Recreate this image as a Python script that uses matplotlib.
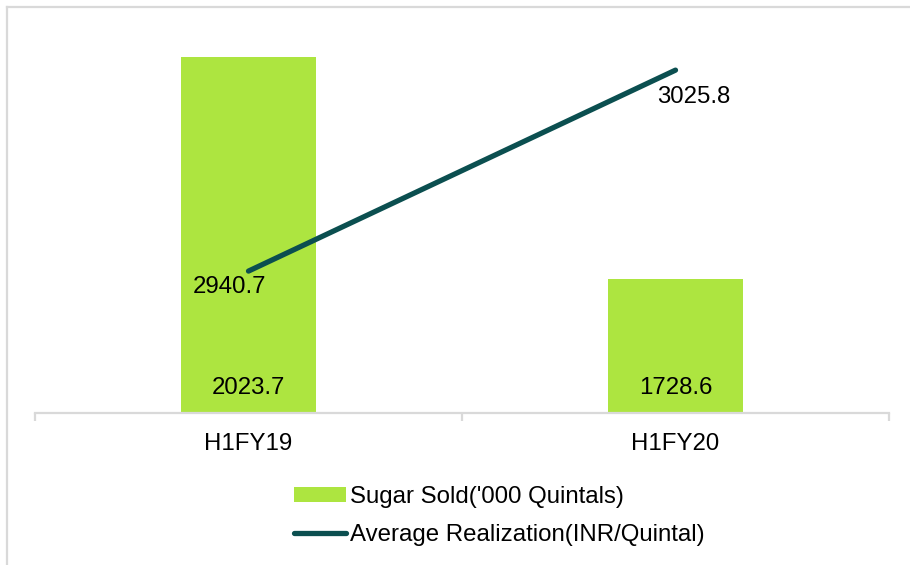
import matplotlib
matplotlib.use("Agg")
import matplotlib.pyplot as plt
from matplotlib.lines import Line2D
from matplotlib.patches import Patch

plt.rcParams['font.family'] = ['Liberation Sans', 'DejaVu Sans']

categories = ["H1FY19", "H1FY20"]
sugar_sold = [2023.7, 1728.6]
avg_realization = [2940.7, 3025.8]
bar_labels = ["2023.7", "1728.6"]
line_labels = ["2940.7", "3025.8"]

BAR_COLOR = "#ADE540"
LINE_COLOR = "#0B4F50"
GRID_GRAY = "#D9D9D9"
FS = 17.3

W, H = 910, 565
fig = plt.figure(figsize=(W / 100, H / 100), dpi=100)

left, right, bottom, top = 35 / W, 889 / W, 1 - 413 / H, 1.0
ax = fig.add_axes([left, bottom, right - left, top - bottom])
x = list(range(len(categories)))

ax.bar(x, sugar_sold, width=0.314, color=BAR_COLOR, zorder=2)
ax.set_xlim(-0.5, 1.5)
ax.set_ylim(1550, 2100)
ax.set_yticks([])
for s in ["top", "right", "left"]:
    ax.spines[s].set_visible(False)
ax.spines["bottom"].set_color(GRID_GRAY)
ax.spines["bottom"].set_linewidth(1.6)
ax.set_xticks([-0.5, 0.5, 1.5])
ax.set_xticklabels([])
ax.tick_params(axis="x", which="major", direction="out", length=6, width=1.6, color=GRID_GRAY)
ax.set_xticks(x, minor=True)
ax.set_xticklabels(categories, minor=True, fontsize=FS)
ax.tick_params(axis="x", which="minor", length=0, pad=14.5)

for xi, lab in zip(x, bar_labels):
    ax.annotate(lab, xy=(xi, 1550), xytext=(0, 25), textcoords="offset pixels",
                ha="center", va="center", fontsize=FS, zorder=5)

ax2 = ax.twinx()
ax2.set_ylim(2880.6, 3055.5)
ax2.axis("off")
ax2.plot(x, avg_realization, color=LINE_COLOR, lw=3.8, solid_capstyle="round", zorder=3)
offsets = [(-19, -16), (18, -27)]
for xi, v, lab, off in zip(x, avg_realization, line_labels, offsets):
    ax2.annotate(lab, xy=(xi, v), xytext=off, textcoords="offset pixels",
                 ha="center", va="center", fontsize=FS)

handles = [Patch(facecolor=BAR_COLOR, edgecolor="none"),
           Line2D([0], [0], color=LINE_COLOR, lw=3.8, solid_capstyle="round")]
fig.legend(handles, ["Sugar Sold('000 Quintals)", "Average Realization(INR/Quintal)"],
           loc="upper left", bbox_to_anchor=(294 / W, 1 - 486 / H),
           frameon=False, fontsize=FS, handlelength=2.15, handleheight=0.6,
           handletextpad=0.17, labelspacing=0.68, borderpad=0, borderaxespad=0)

# outer frame (left and top edges)
fig.add_artist(Line2D([7 / W, 7 / W], [0, 1 - 7 / H], color=GRID_GRAY, lw=1.6, transform=fig.transFigure))
fig.add_artist(Line2D([7 / W, 1], [1 - 7 / H, 1 - 7 / H], color=GRID_GRAY, lw=1.6, transform=fig.transFigure))

fig.savefig("out.png", dpi=100)
